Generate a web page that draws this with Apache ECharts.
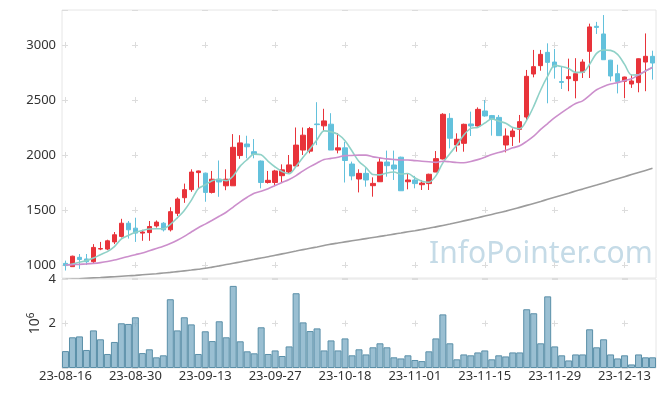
<!DOCTYPE html>
<html>
<head>
<meta charset="utf-8">
<script src="https://cdn.jsdelivr.net/npm/echarts@6/dist/echarts.min.js"></script>
<style>html,body{margin:0;padding:0;background:#fff}#c{width:665px;height:396px}</style>
</head>
<body>
<div id="c"></div>
<script>
const dates = ['23-08-16','23-08-17','23-08-18','23-08-21','23-08-22','23-08-23','23-08-24','23-08-25','23-08-28','23-08-29',
'23-08-30','23-08-31','23-09-01','23-09-04','23-09-05','23-09-06','23-09-07','23-09-08','23-09-11','23-09-12',
'23-09-13','23-09-14','23-09-15','23-09-18','23-09-19','23-09-20','23-09-21','23-09-22','23-09-25','23-09-26',
'23-09-27','23-10-04','23-10-05','23-10-06','23-10-10','23-10-11','23-10-12','23-10-13','23-10-16','23-10-17',
'23-10-18','23-10-19','23-10-20','23-10-23','23-10-24','23-10-25','23-10-26','23-10-27','23-10-30','23-10-31',
'23-11-01','23-11-02','23-11-03','23-11-06','23-11-07','23-11-08','23-11-09','23-11-10','23-11-13','23-11-14',
'23-11-15','23-11-16','23-11-17','23-11-20','23-11-21','23-11-22','23-11-23','23-11-24','23-11-27','23-11-28',
'23-11-29','23-11-30','23-12-01','23-12-04','23-12-05','23-12-06','23-12-07','23-12-08','23-12-11','23-12-12',
'23-12-13','23-12-14','23-12-15','23-12-18','23-12-19'];

const opens = [1015,985,1070,1055,1030,1145,1145,1210,1260,1380,1335,1290,1295,1355,1380,1320,1470,1612,1685,1840,
1835,1660,1780,1720,1720,1995,2100,2030,1945,1750,1750,1812,1845,1900,2045,2035,2282,2265,2280,2045,
2065,1918,1782,1833,1721,1757,1936,1909,1980,1757,1773,1730,1740,1845,1964,2333,2091,2106,2282,2264,
2400,2358,2342,2091,2167,2233,2345,2736,2812,2933,2845,2668,2694,2676,2752,2942,3170,3100,2862,2739,
2670,2645,2658,2845,2897];
const closes = [995,1080,1050,1030,1160,1150,1220,1275,1380,1320,1290,1300,1350,1390,1320,1485,1600,1685,1845,1855,
1660,1780,1755,1780,2070,2110,2075,2005,1750,1770,1855,1865,1910,2090,2180,2240,2276,2310,2045,2065,
1950,1810,1833,1773,1742,1936,1903,1873,1675,1773,1740,1745,1825,1967,2370,2152,2143,2279,2264,2415,
2355,2327,2176,2173,2218,2303,2715,2803,2915,2842,2800,2660,2712,2739,2845,3164,3160,2866,2718,2667,
2709,2673,2875,2897,2836];
const lows = [950,985,965,1000,1010,1135,1135,1190,1250,1240,1210,1220,1220,1340,1305,1305,1445,1565,1665,1700,
1575,1650,1620,1680,1720,1965,1970,1970,1697,1740,1725,1750,1835,1895,2000,2015,2090,2218,2045,2015,
1750,1770,1660,1712,1621,1755,1803,1773,1675,1688,1697,1682,1682,1845,1960,2060,2030,2030,2173,2258,
2348,2176,2176,2024,2082,2112,2318,2706,2766,2470,2694,2600,2580,2515,2700,2700,3100,2866,2670,2560,
2518,2610,2570,2580,2685];
const highs = [1040,1085,1100,1100,1190,1210,1230,1300,1420,1400,1430,1320,1400,1405,1390,1525,1615,1740,1870,1858,
1840,1855,1950,1870,2190,2180,2175,2145,1950,1855,1865,1915,2000,2250,2250,2255,2480,2420,2380,2200,
2120,1940,1870,1880,1797,1980,2040,2040,1985,1833,1810,1773,1830,2036,2380,2380,2197,2285,2394,2433,
2500,2364,2364,2242,2242,2364,2773,2955,2955,3015,2964,2806,2876,2880,2870,3194,3210,3272,2865,2821,
2712,2730,2878,3105,2948];

const ma5 = [1000,1010,1025,1040,1063,1094,1122,1167,1237,1269,1297,1313,1328,1330,1330,1369,1429,1496,1587,1694,
1729,1765,1779,1766,1809,1899,1958,2008,2002,1942,1891,1849,1830,1898,1980,2057,2139,2219,2210,2187,
2129,2036,1941,1886,1822,1819,1837,1845,1826,1832,1793,1761,1752,1810,1929,2012,2091,2182,2242,2251,
2291,2328,2307,2289,2250,2239,2317,2442,2591,2716,2815,2804,2786,2751,2751,2824,2924,2955,2951,2915,
2824,2727,2728,2764,2798];
const ma20 = [1000,1003,1006,1010,1015,1022,1032,1045,1062,1078,1094,1110,1130,1150,1170,1195,1225,1260,1300,1339,
1372,1407,1443,1480,1526,1574,1616,1653,1671,1694,1722,1750,1778,1813,1856,1894,1928,1959,1969,1980,
1994,1996,1999,1999,1983,1974,1965,1959,1955,1955,1949,1943,1939,1933,1943,1938,1932,1930,1941,1958,
1979,2005,2022,2042,2065,2084,2124,2171,2233,2286,2339,2385,2429,2468,2492,2542,2593,2623,2645,2658,
2676,2693,2728,2764,2795];
const ma120 = [868,872,875,879,883,886,890,894,898,902,906,911,916,921,927,933,940,947,954,962,
970,981,992,1004,1016,1028,1040,1052,1064,1075,1088,1101,1114,1127,1140,1152,1164,1177,1190,1200,
1210,1220,1230,1240,1250,1260,1270,1281,1291,1302,1312,1323,1334,1347,1360,1373,1387,1401,1415,1430,
1445,1460,1475,1490,1506,1524,1542,1560,1578,1597,1616,1635,1653,1672,1690,1709,1727,1746,1765,1784,
1803,1822,1841,1860,1879];

const volumes = [0.76,1.38,1.42,0.81,1.69,1.29,0.63,1.17,2.01,1.98,2.28,0.67,0.84,0.48,0.57,3.09,1.69,2.28,1.96,0.63,
1.65,1.21,2.10,1.38,3.69,1.20,0.75,0.66,1.83,0.63,0.79,0.54,0.97,3.36,2.05,1.66,1.78,0.79,1.24,0.79,
1.33,0.57,0.84,0.61,0.93,1.11,0.93,0.48,0.43,0.57,0.36,0.31,0.75,1.33,2.41,1.11,0.39,0.61,0.57,0.70,
0.79,0.39,0.57,0.52,0.70,0.70,2.64,2.46,1.11,3.22,0.97,0.57,0.34,0.61,0.61,1.74,0.93,1.29,0.61,0.43,
0.57,0.16,0.61,0.48,0.48];

const candleData = opens.map((o, i) => [o, closes[i], lows[i], highs[i]]);

const FONT = 'Noto Sans';
const labelColor = '#333';
const crossColor = '#dcdcdc';

const chart = echarts.init(document.getElementById('c'), null, {renderer: 'canvas'});
chart.setOption({
  animation: false,
  backgroundColor: '#fff',
  textStyle: {fontFamily: FONT},
  grid: [
    {left: 62, right: 9, top: 10, height: 268, show: true, borderColor: '#e6e6e6', borderWidth: 1, containLabel: false},
    {left: 62, right: 9, top: 279, height: 89, show: true, borderColor: '#e6e6e6', borderWidth: 1, containLabel: false}
  ],
  graphic: [{
    type: 'text', left: 429, top: 239, z: 0, silent: true,
    style: {text: 'InfoPointer.com', fontFamily: FONT, fontSize: 30, fill: '#c5dbe7'}
  }],
  xAxis: [
    {type: 'category', gridIndex: 0, data: dates, boundaryGap: true,
     axisLine: {show: false}, axisTick: {show: false}, axisLabel: {show: false},
     splitLine: {show: true, interval: 9, alignWithLabel: true,
       lineStyle: {color: crossColor, width: 1, type: [6, 49], dashOffset: 23}}},
    {type: 'category', gridIndex: 1, data: dates, boundaryGap: true,
     axisLine: {show: false}, axisTick: {show: false},
     axisLabel: {interval: 9, color: labelColor, fontSize: 13, fontFamily: FONT, margin: 2},
     splitLine: {show: true, interval: 9, alignWithLabel: true,
       lineStyle: {color: crossColor, width: 1, type: [6, 200], dashOffset: 164.5}}}
  ],
  yAxis: [
    {type: 'value', gridIndex: 0, min: 882, max: 3318, scale: true,
     axisLine: {show: false}, axisTick: {show: false},
     axisLabel: {color: labelColor, fontSize: 13, fontFamily: FONT, margin: 6, showMinLabel: false, showMaxLabel: false,
       formatter: v => String(v)},
     splitLine: {show: true, lineStyle: {color: crossColor, width: 1, type: [6, 64], dashOffset: 0}}},
    {type: 'value', gridIndex: 1, min: 0, max: 4, interval: 2,
     axisLine: {show: false}, axisTick: {show: false},
     axisLabel: {color: labelColor, fontSize: 13, fontFamily: FONT, margin: 6, hideOverlap: false,
       formatter: v => (v === 0 ? '' : String(v))},
     splitLine: {show: true, lineStyle: {color: crossColor, width: 1, type: [6, 64], dashOffset: 0}},
     name: '{a|10}{s|6}', nameLocation: 'middle', nameRotate: 90, nameGap: 18, nameMoveOverlap: false,
     nameTextStyle: {rich: {
       a: {fontSize: 14, fontFamily: FONT, color: labelColor, lineHeight: 18},
       s: {fontSize: 10, fontFamily: FONT, color: labelColor, verticalAlign: 'top', lineHeight: 10}
     }}}
  ],
  series: [
    {type: 'candlestick', name: 'price', xAxisIndex: 0, yAxisIndex: 0, data: candleData, barWidth: 5,
     itemStyle: {color: '#e8333a', color0: '#63c1dc', borderColor: '#e8333a', borderColor0: '#63c1dc', borderWidth: 1}},
    {type: 'line', name: 'MA5', xAxisIndex: 0, yAxisIndex: 0, data: ma5, symbol: 'none', smooth: 0.3,
     lineStyle: {color: '#8fd1c7', width: 1.6}},
    {type: 'line', name: 'MA20', xAxisIndex: 0, yAxisIndex: 0, data: ma20, symbol: 'none', smooth: 0.3,
     lineStyle: {color: '#cc8fcc', width: 1.6}},
    {type: 'line', name: 'MA120', xAxisIndex: 0, yAxisIndex: 0, data: ma120, symbol: 'none', smooth: 0.3,
     lineStyle: {color: '#9c9c9c', width: 1.6}},
    {type: 'bar', name: 'volume', xAxisIndex: 1, yAxisIndex: 1, data: volumes, barCategoryGap: 0, barWidth: '100%',
     itemStyle: {color: 'rgba(120,170,195,0.75)', borderColor: '#5a8fa8', borderWidth: 1}}
  ]
});
</script>
</body>
</html>
